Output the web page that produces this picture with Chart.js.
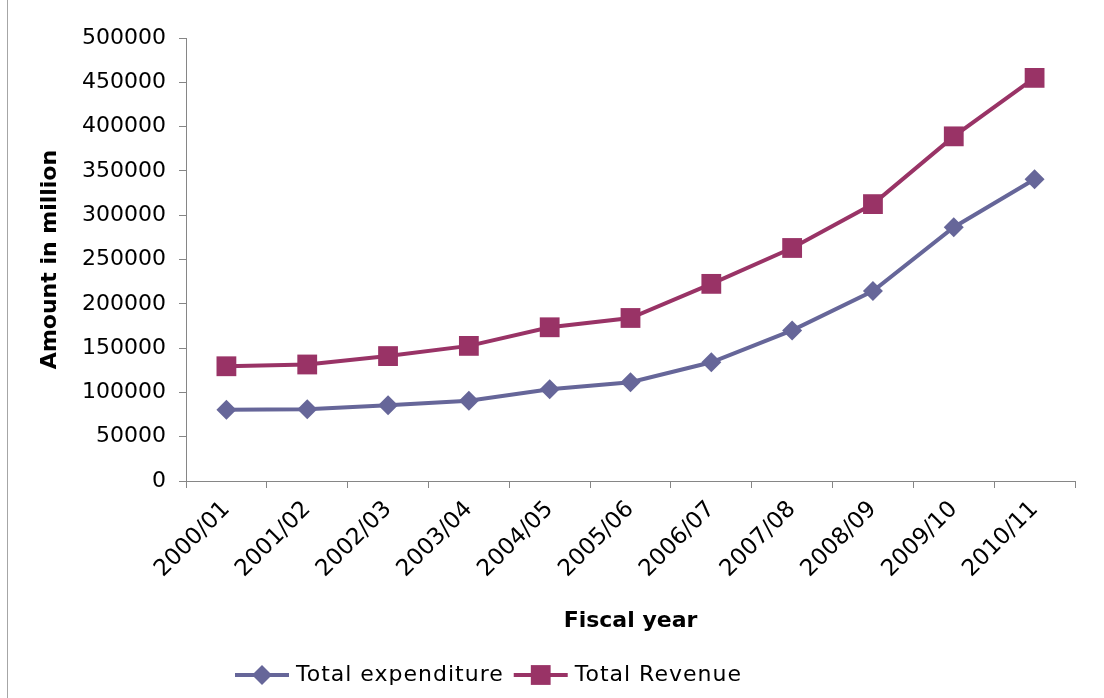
<!DOCTYPE html>
<html>
<head>
<meta charset="utf-8">
<script src="https://cdn.jsdelivr.net/npm/chart.js@4/dist/chart.umd.min.js"></script>
<style>
  html, body { margin: 0; padding: 0; background: #fff; }
  #wrap { position: relative; width: 1104px; height: 698px; }
  #frame { position: absolute; left: 7px; top: 0; width: 1px; height: 698px; background: #a6a6a6; }
</style>
</head>
<body>
<div id="wrap">
  <div id="frame"></div>
  <canvas id="fiscalChart" width="1104" height="698"></canvas>
</div>
<script>
// Fiscal years and amounts (million)
const years = ['2000/01', '2001/02', '2002/03', '2003/04', '2004/05', '2005/06',
               '2006/07', '2007/08', '2008/09', '2009/10', '2010/11'];
const expenditure = [80500, 81000, 85500, 90500, 103500, 111500, 134000, 170000, 214500, 286500, 340500];
const revenue = [129500, 131500, 141000, 152500, 173500, 184000, 222500, 263000, 312500, 389000, 455000];
const yTicks = [0, 50000, 100000, 150000, 200000, 250000, 300000, 350000, 400000, 450000, 500000];

const font = 'DejaVu Sans';
const expColor = '#666699';
const revColor = '#993366';

// legend drawn as line + marker + text, like office charts do
const lineLegend = {
    id: 'lineLegend',
    afterDraw(chart) {
        const ctx = chart.ctx;
        const y = 675;
        const items = [
            { text: 'Total expenditure', color: expColor, style: 'rectRot', r: 10 },
            { text: 'Total Revenue', color: revColor, style: 'rect', r: 14 }
        ];
        let x = 235;
        ctx.save();
        ctx.font = '22px ' + font;
        ctx.letterSpacing = '1px';
        ctx.textBaseline = 'middle';
        items.forEach(item => {
            ctx.strokeStyle = item.color;
            ctx.lineWidth = 4;
            ctx.beginPath();
            ctx.moveTo(x, y);
            ctx.lineTo(x + 54, y);
            ctx.stroke();
            ctx.fillStyle = item.color;
            Chart.helpers.drawPoint(ctx, { pointStyle: item.style, radius: item.r, borderWidth: 0 }, x + 27, y);
            ctx.fillStyle = '#000';
            ctx.fillText(item.text, x + 61, y);
            x += 61 + ctx.measureText(item.text).width + 10;
        });
        ctx.restore();
    }
};

new Chart(document.getElementById('fiscalChart'), {
    type: 'line',
    data: {
        labels: years,
        datasets: [
            {
                label: 'Total expenditure',
                data: expenditure,
                borderColor: expColor,
                backgroundColor: expColor,
                borderWidth: 4,
                pointStyle: 'rectRot',
                pointRadius: 10,
                pointBorderWidth: 0,
                tension: 0
            },
            {
                label: 'Total Revenue',
                data: revenue,
                borderColor: revColor,
                backgroundColor: revColor,
                borderWidth: 4,
                pointStyle: 'rect',
                pointRadius: 14,
                pointBorderWidth: 0,
                tension: 0
            }
        ]
    },
    options: {
        responsive: false,
        animation: false,
        layout: { padding: { left: 37, right: 29, top: 38, bottom: 64 } },
        plugins: {
            legend: { display: false },
            tooltip: { enabled: false }
        },
        scales: {
            x: {
                offset: true,
                grid: { display: true, drawOnChartArea: false, color: '#868686', tickLength: 7, offset: true },
                border: { color: '#868686', width: 1 },
                ticks: {
                    color: '#000',
                    font: { family: font, size: 23 },
                    maxRotation: 45,
                    minRotation: 45,
                    padding: 8
                },
                title: {
                    display: true,
                    text: 'Fiscal year',
                    color: '#000',
                    font: { family: font, size: 22, weight: 'bold' },
                    padding: { top: 6, bottom: 0 }
                },
                afterFit(scale) { scale.height = 698 - 481 - 64; }
            },
            y: {
                min: 0,
                max: 500000,
                afterBuildTicks(scale) { scale.ticks = yTicks.map(v => ({ value: v })); },
                grid: { display: true, drawOnChartArea: false, color: '#868686', tickLength: 7 },
                border: { color: '#868686', width: 1 },
                ticks: {
                    color: '#000',
                    font: { family: font, size: 22 },
                    padding: 13,
                    callback: v => String(v)
                },
                title: {
                    display: true,
                    text: 'Amount in million',
                    color: '#000',
                    font: { family: font, size: 22, weight: 'bold' },
                    padding: 0
                },
                afterFit(scale) { scale.width = 186 - 37; }
            }
        }
    },
    plugins: [lineLegend]
});
</script>
</body>
</html>
